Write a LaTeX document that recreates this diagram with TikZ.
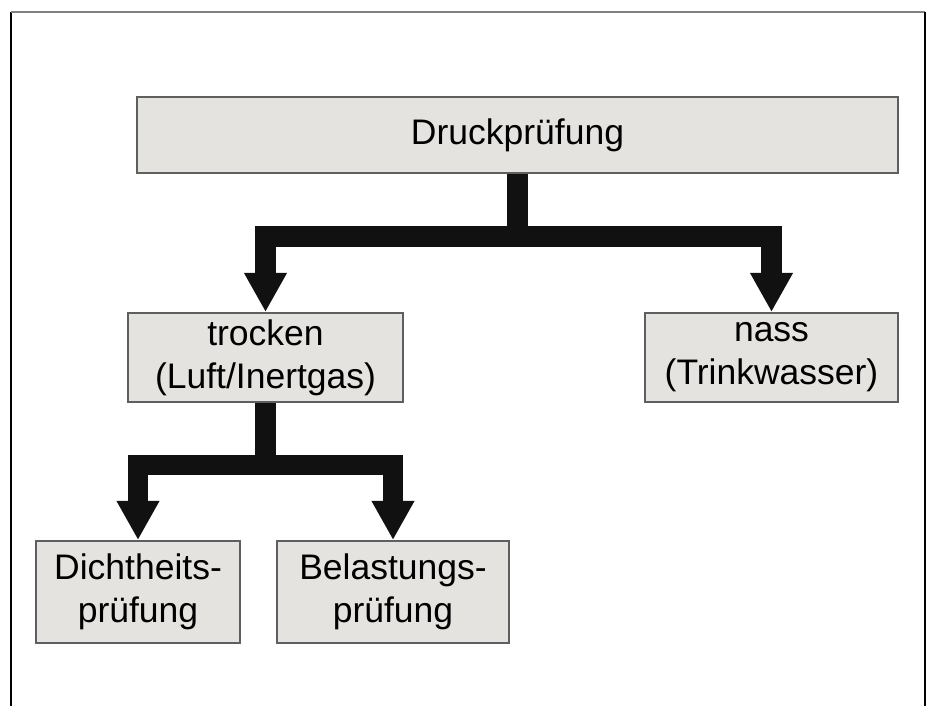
\documentclass[tikz,border=0pt]{standalone}
\usepackage{fontspec}
\setmainfont{Liberation Sans}
\usetikzlibrary{arrows.meta}
\definecolor{boxfill}{RGB}{228,227,223}
\definecolor{boxline}{RGB}{95,95,95}
\definecolor{conncol}{RGB}{17,17,17}
\begin{document}
\begin{tikzpicture}[x=1pt,y=1pt,
  box/.style={draw=boxline, fill=boxfill, line width=2pt, inner sep=0pt,
    align=center, font=\fontsize{35.5}{43}\selectfont},
  conn/.style={draw=conncol, line width=20.5pt, line join=miter},
  tip/.style={-{Triangle[width=40pt,length=39pt]}}]
\useasboundingbox (0,0) rectangle (928,706);
% frame
\draw[black, line width=1.5pt] (11,0) -- (11,694);
\draw[gray, line width=1.5pt] (11,694) -- (925,694);
\draw[black, line width=1.5pt] (925,694) -- (925,0);
% nodes
\node[box, minimum width=761pt, minimum height=76pt] (top) at (517.5,571) {Druckprüfung};
\node[box, minimum width=275pt, minimum height=89pt] (trocken) at (265.5,348.5) {trocken\\(Luft/Inertgas)};
\node[box, minimum width=253pt, minimum height=89pt] (nass) at (771.5,348.5) {nass\\(Trinkwasser)};
\node[box, minimum width=204pt, minimum height=102pt] (dicht) at (138,114) {Dichtheits-\\prüfung};
\node[box, minimum width=232pt, minimum height=102pt] (belast) at (393,114) {Belastungs-\\prüfung};
% junctions
\coordinate (j1) at (top.south |- 0,469.5);
\coordinate (j2) at (trocken.south |- 0,241);
% connectors
\draw[conn] (top.south) -- (j1);
\draw[conn, tip] (j1) -| (trocken.north);
\draw[conn, tip] (j1) -| (nass.north);
\draw[conn] (trocken.south) -- (j2);
\draw[conn, tip] (j2) -| (dicht.north);
\draw[conn, tip] (j2) -| (belast.north);
\end{tikzpicture}
\end{document}
